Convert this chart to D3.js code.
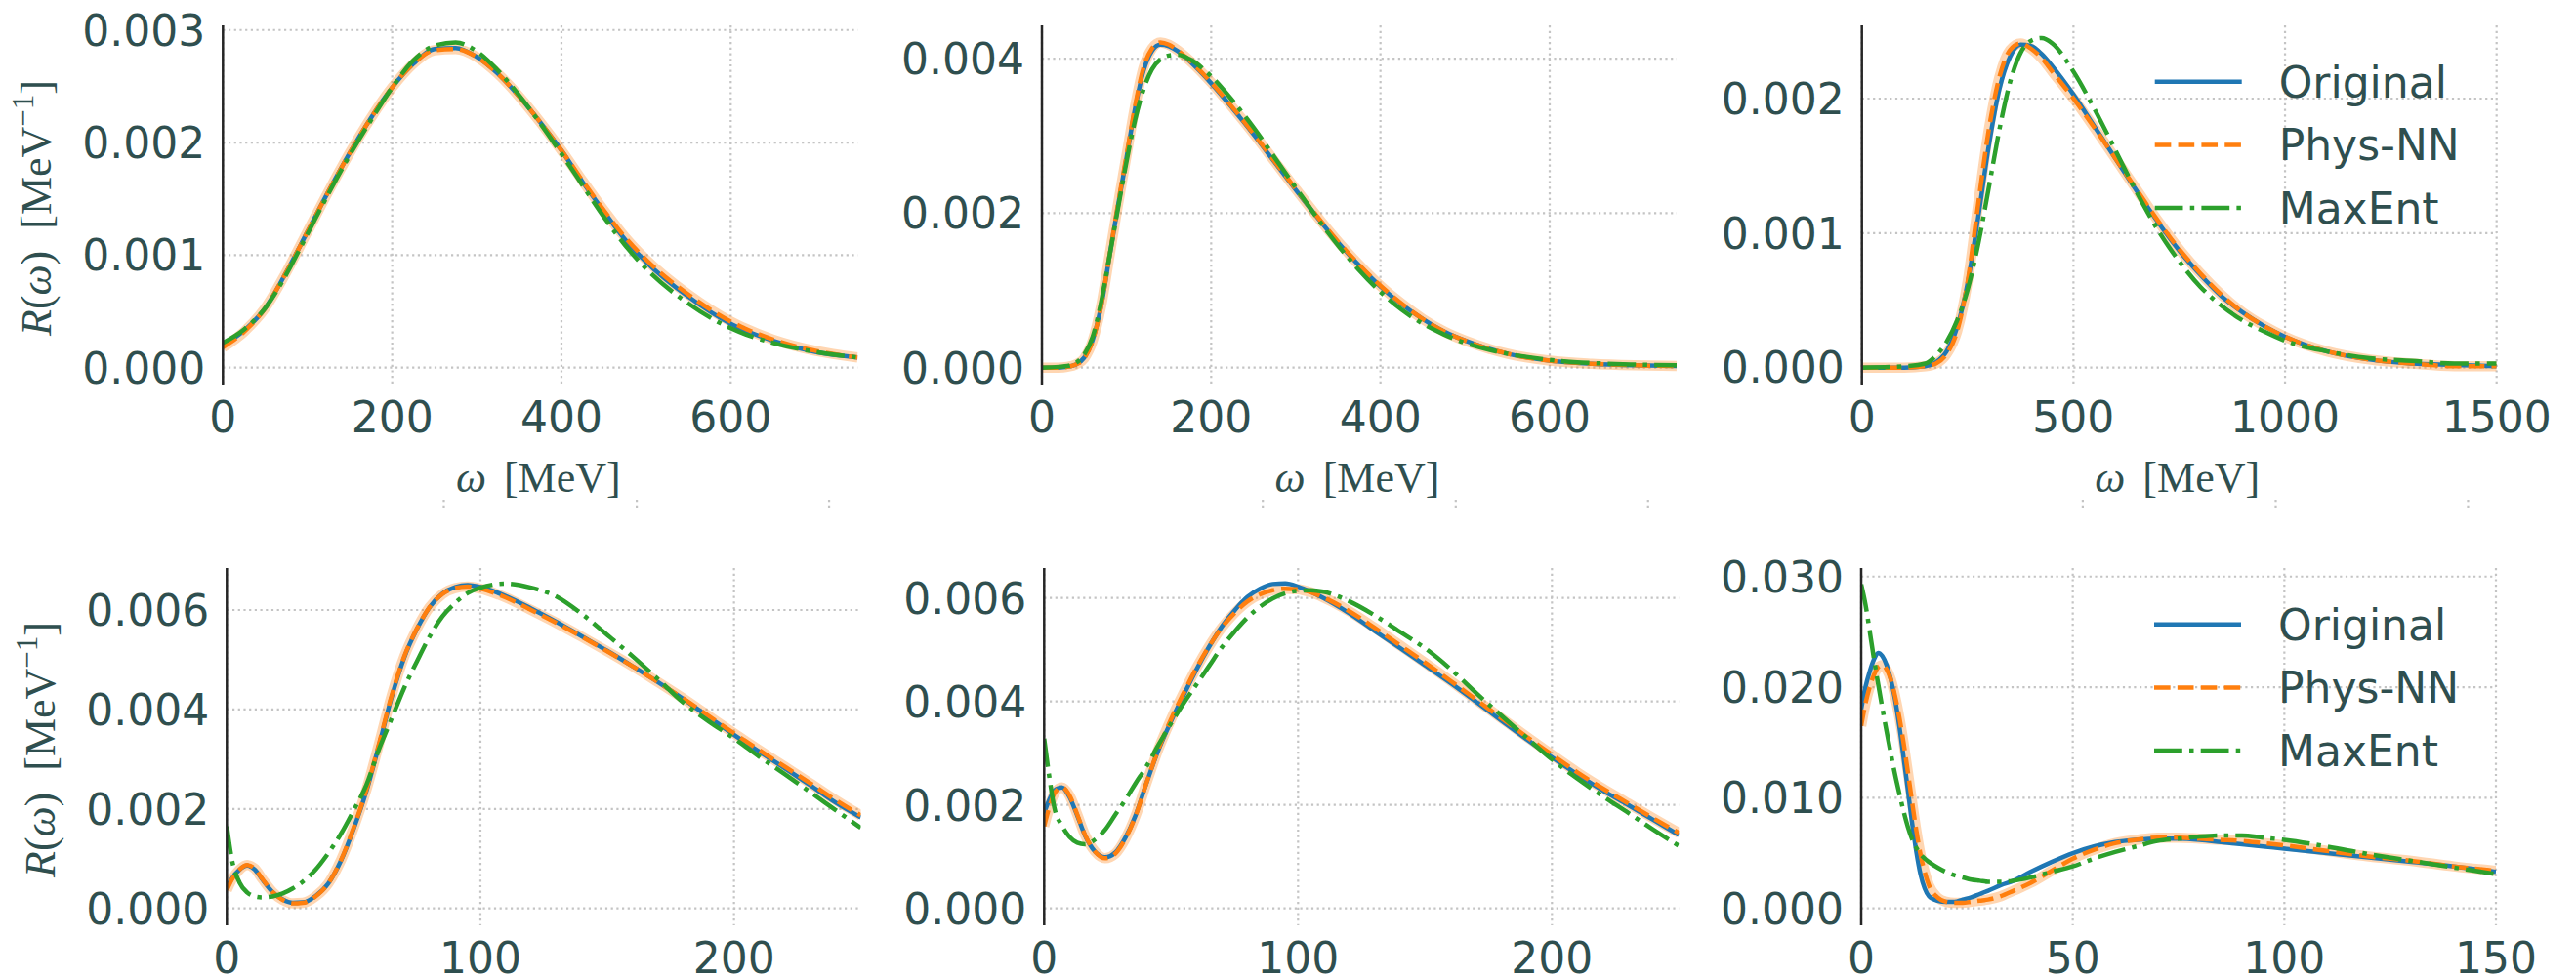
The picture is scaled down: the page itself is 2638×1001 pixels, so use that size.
<!DOCTYPE html>
<html><head><meta charset="utf-8">
<script src="https://cdn.jsdelivr.net/npm/d3@7"></script>
<style>body{margin:0;background:#fff;} svg{display:block;}</style>
</head><body>
<svg id="chart" width="2638" height="1001"></svg>
<script>
// ---------------- DATA ----------------
const seriesNames = ["Original", "Phys-NN", "MaxEnt"];

// Top-left panel
const tlX = [0,25,50,75,100,125,150,175,200,225,250,275,300,325,350,375,400,425,450,475,500,550,600,650,700,750];
const tlOriginal = [0.00020,0.00033,0.00053,0.00085,0.00121,0.00157,0.00191,0.00222,0.00249,0.00270,0.00283,0.00284,0.00276,0.00261,0.00241,0.00218,0.00193,0.00165,0.00139,0.00114,0.00094,0.00063,0.00039,0.00024,0.00014,0.00009];
const tlPhysNN   = [0.00018,0.00032,0.00053,0.00085,0.00121,0.00157,0.00191,0.00222,0.00249,0.00270,0.00282,0.00283,0.00276,0.00261,0.00241,0.00218,0.00193,0.00166,0.00140,0.00116,0.00096,0.00065,0.00041,0.00025,0.00015,0.00009];
const tlMaxEnt   = [0.00022,0.00034,0.00053,0.00083,0.00119,0.00155,0.00189,0.00220,0.00249,0.00273,0.00286,0.00289,0.00281,0.00264,0.00242,0.00217,0.00190,0.00162,0.00134,0.00109,0.00088,0.00057,0.00035,0.00022,0.00014,0.00009];
const tlXTicks = [0,200,400,600];
const tlYTicks = [0,0.001,0.002,0.003];

// Top-middle panel
const tmX = [0,20,30,40,50,60,70,80,90,100,110,120,130,140,150,160,175,200,225,250,275,300,325,350,375,400,425,450,475,500,550,600,650,700,750];
const tmOriginal = [0,0,0.00001,0.00004,0.00013,0.00036,0.00080,0.00145,0.00210,0.00272,0.00335,0.00384,0.00410,0.00418,0.00416,0.00410,0.00396,0.00368,0.00336,0.00302,0.00266,0.00230,0.00195,0.00162,0.00132,0.00105,0.00082,0.00063,0.00047,0.00035,0.00018,0.00009,0.00005,0.00003,0.00002];
const tmPhysNN   = [0,0,0.00001,0.00004,0.00012,0.00035,0.00080,0.00146,0.00212,0.00275,0.00338,0.00388,0.00413,0.00421,0.00418,0.00411,0.00397,0.00369,0.00337,0.00303,0.00267,0.00231,0.00196,0.00163,0.00133,0.00106,0.00083,0.00063,0.00047,0.00035,0.00018,0.00009,0.00005,0.00003,0.00002];
const tmMaxEnt   = [0,0.00001,0.00002,0.00006,0.00017,0.00040,0.00085,0.00145,0.00207,0.00267,0.00320,0.00360,0.00386,0.00399,0.00404,0.00405,0.00399,0.00377,0.00346,0.00311,0.00272,0.00233,0.00194,0.00158,0.00126,0.00098,0.00075,0.00057,0.00043,0.00032,0.00018,0.00010,0.00006,0.00004,0.00003];
const tmXTicks = [0,200,400,600];
const tmYTicks = [0,0.002,0.004];

// Top-right panel
const trX = [0,100,150,175,200,225,250,275,300,325,350,375,400,425,450,500,550,600,650,700,750,800,850,900,950,1000,1100,1200,1300,1400,1500];
const trOriginal = [0,0,0.00001,0.00004,0.00012,0.00030,0.00063,0.00112,0.00165,0.00207,0.00231,0.00240,0.00239,0.00233,0.00224,0.00203,0.00179,0.00155,0.00131,0.00108,0.00087,0.00069,0.00053,0.00041,0.00031,0.00023,0.00012,0.00006,0.00003,0.00002,0.00001];
const trPhysNN   = [0,0,0.00001,0.00003,0.00010,0.00027,0.00064,0.00122,0.00177,0.00216,0.00236,0.00241,0.00237,0.00230,0.00220,0.00200,0.00178,0.00155,0.00132,0.00109,0.00088,0.00070,0.00054,0.00041,0.00031,0.00023,0.00012,0.00006,0.00003,0.00001,0.00001];
const trMaxEnt   = [0,0.00001,0.00003,0.00009,0.00019,0.00035,0.00058,0.00092,0.00134,0.00177,0.00212,0.00234,0.00243,0.00245,0.00241,0.00220,0.00192,0.00161,0.00130,0.00102,0.00079,0.00060,0.00046,0.00035,0.00027,0.00020,0.00012,0.00007,0.00005,0.00003,0.00003];
const trXTicks = [0,500,1000,1500];
const trYTicks = [0,0.001,0.002];

// Bottom-left panel
const blX = [0,2,5,8,11,14,18,22,26,30,35,40,45,50,55,60,65,70,75,80,85,90,95,100,110,120,130,140,150,160,170,180,190,200,210,220,230,240,250];
const blOriginal = [0.00041,0.00060,0.00078,0.00086,0.00078,0.00058,0.00033,0.00018,0.00011,0.00012,0.00025,0.00050,0.00096,0.00160,0.00235,0.00328,0.00425,0.00505,0.00562,0.00606,0.00633,0.00646,0.00650,0.00646,0.00628,0.00603,0.00576,0.00547,0.00518,0.00487,0.00455,0.00421,0.00385,0.00349,0.00315,0.00282,0.00248,0.00213,0.00183];
const blPhysNN   = [0.00037,0.00058,0.00078,0.00087,0.00080,0.00059,0.00033,0.00017,0.00010,0.00011,0.00024,0.00050,0.00097,0.00162,0.00238,0.00331,0.00428,0.00507,0.00563,0.00606,0.00632,0.00644,0.00647,0.00643,0.00625,0.00600,0.00574,0.00546,0.00517,0.00487,0.00455,0.00422,0.00387,0.00352,0.00318,0.00285,0.00252,0.00218,0.00187];
const blMaxEnt   = [0.00165,0.00098,0.00052,0.00032,0.00024,0.00022,0.00024,0.00030,0.00040,0.00054,0.00078,0.00111,0.00150,0.00197,0.00248,0.00320,0.00382,0.00444,0.00497,0.00547,0.00587,0.00614,0.00634,0.00645,0.00653,0.00645,0.00627,0.00592,0.00550,0.00507,0.00461,0.00414,0.00376,0.00342,0.00305,0.00270,0.00234,0.00198,0.00162];
const blXTicks = [0,100,200];
const blYTicks = [0,0.002,0.004,0.006];

// Bottom-middle panel
const bmX = [0,2,4,7,10,13,16,20,24,28,32,36,40,45,50,55,60,65,70,75,80,85,90,95,100,105,110,120,130,140,150,160,170,180,190,200,210,220,230,240,250];
const bmOriginal = [0.00184,0.00210,0.00228,0.00234,0.00215,0.00180,0.00142,0.00110,0.00099,0.00108,0.00137,0.00180,0.00238,0.00306,0.00362,0.00413,0.00462,0.00506,0.00545,0.00576,0.00602,0.00618,0.00627,0.00628,0.00622,0.00612,0.00600,0.00571,0.00537,0.00504,0.00470,0.00436,0.00400,0.00363,0.00327,0.00292,0.00259,0.00228,0.00200,0.00171,0.00142];
const bmPhysNN   = [0.00159,0.00195,0.00222,0.00234,0.00218,0.00182,0.00143,0.00110,0.00097,0.00106,0.00135,0.00179,0.00238,0.00308,0.00366,0.00417,0.00465,0.00507,0.00543,0.00571,0.00593,0.00607,0.00615,0.00618,0.00617,0.00611,0.00601,0.00575,0.00543,0.00509,0.00475,0.00440,0.00404,0.00368,0.00332,0.00297,0.00263,0.00232,0.00203,0.00174,0.00146];
const bmMaxEnt   = [0.00328,0.00255,0.00195,0.00160,0.00138,0.00127,0.00124,0.00133,0.00152,0.00181,0.00210,0.00242,0.00272,0.00316,0.00358,0.00397,0.00433,0.00469,0.00505,0.00535,0.00562,0.00583,0.00599,0.00609,0.00614,0.00615,0.00612,0.00594,0.00567,0.00535,0.00503,0.00463,0.00417,0.00373,0.00330,0.00288,0.00251,0.00217,0.00185,0.00152,0.00121];
const bmXTicks = [0,100,200];
const bmYTicks = [0,0.002,0.004,0.006];

// Bottom-right panel
const brX = [0,1,2,3,4,5,6,7,8,9,10,11,12,13,14,15,16,18,20,22,24,26,28,30,33,36,40,45,50,55,60,65,70,75,80,85,90,95,100,110,120,130,140,150];
const brOriginal = [0.0180,0.0200,0.0214,0.0225,0.0231,0.0228,0.0220,0.0207,0.0189,0.0165,0.0137,0.0108,0.0078,0.0052,0.0031,0.0018,0.0011,0.0007,0.0006,0.0006,0.0008,0.0010,0.0013,0.0016,0.0021,0.0025,0.0033,0.0042,0.0050,0.0056,0.0060,0.0062,0.0063,0.0063,0.0062,0.0060,0.0058,0.0056,0.0054,0.0050,0.0046,0.0042,0.0038,0.0033];
const brPhysNN   = [0.0165,0.0185,0.0200,0.0211,0.0218,0.0220,0.0216,0.0207,0.0192,0.0173,0.0150,0.0124,0.0097,0.0071,0.0049,0.0033,0.0021,0.0010,0.0006,0.0005,0.0005,0.0006,0.0007,0.0008,0.0011,0.0016,0.0023,0.0034,0.0045,0.0053,0.0059,0.0062,0.0064,0.0064,0.0063,0.0062,0.0061,0.0059,0.0057,0.0052,0.0047,0.0043,0.0038,0.0034];
const brMaxEnt   = [0.0293,0.0275,0.0251,0.0226,0.0203,0.0181,0.0160,0.0140,0.0121,0.0104,0.0088,0.0074,0.0063,0.0055,0.0049,0.0045,0.0042,0.0037,0.0033,0.0030,0.0028,0.0026,0.0025,0.0024,0.0024,0.0025,0.0028,0.0033,0.0038,0.0045,0.0051,0.0056,0.0061,0.0063,0.0065,0.0066,0.0066,0.0064,0.0062,0.0056,0.0049,0.0043,0.0037,0.0031];
const brXTicks = [0,50,100,150];
const brYTicks = [0,0.010,0.020,0.030];

// ---------------- LAYOUT ----------------
const TEXT = "#2f4f4f";
const COLORS = ["#1f77b4", "#ff7f0e", "#2ca02c"];
const LW = 4.5;
const DASHES = [null, `${3.7*LW},${1.6*LW}`, `${6.4*LW},${1.6*LW},${1*LW},${1.6*LW}`];

const panels = [
  {xs: tlX, ys: [tlOriginal, tlPhysNN, tlMaxEnt], xd: [0,750], yd: [-0.00015,0.003041], xt: tlXTicks, yt: tlYTicks, L: 228.3, R: 878.3, T: 26, B: 394, ylab: 52, xlab: true, legend: false},
  {xs: tmX, ys: [tmOriginal, tmPhysNN, tmMaxEnt], xd: [0,750], yd: [-0.000219,0.00443], xt: tmXTicks, yt: tmYTicks, L: 1067, R: 1717, T: 26, B: 394, ylab: null, xlab: true, legend: false},
  {xs: trX, ys: [trOriginal, trPhysNN, trMaxEnt], xd: [0,1500], yd: [-0.000126,0.002544], xt: trXTicks, yt: trYTicks, L: 1906.7, R: 2556.7, T: 26, B: 394, ylab: null, xlab: true, legend: true},
  {xs: blX, ys: [blOriginal, blPhysNN, blMaxEnt], xd: [0,250], yd: [-0.00034,0.006844], xt: blXTicks, yt: blYTicks, L: 232.3, R: 881.5, T: 582, B: 948, ylab: 56, xlab: false, legend: false},
  {xs: bmX, ys: [bmOriginal, bmPhysNN, bmMaxEnt], xd: [0,250], yd: [-0.000326,0.006579], xt: bmXTicks, yt: bmYTicks, L: 1069.3, R: 1719.3, T: 582, B: 948, ylab: null, xlab: false, legend: false},
  {xs: brX, ys: [brOriginal, brPhysNN, brMaxEnt], xd: [0,150], yd: [-0.001526,0.03077], xt: brXTicks, yt: brYTicks, L: 1906, R: 2556, T: 582, B: 948, ylab: null, xlab: false, legend: true}
];

const svg = d3.select("#chart");
const defs = svg.append("defs");
const fmtY = d3.format(".3f");
const fmtX = d3.format("d");

panels.forEach((p, i) => {
  const x = d3.scaleLinear().domain(p.xd).range([p.L, p.R]);
  const y = d3.scaleLinear().domain(p.yd).range([p.B, p.T]);
  const g = svg.append("g");

  defs.append("clipPath").attr("id", "clip" + i)
    .append("rect").attr("x", p.L).attr("y", p.T).attr("width", p.R - p.L).attr("height", p.B - p.T);

  // grid
  const grid = g.append("g").attr("stroke", "#c4c4c4").attr("stroke-width", 2.2).attr("stroke-dasharray", "2.2,3.5");
  p.yt.forEach(t => grid.append("line").attr("x1", p.L).attr("x2", p.R).attr("y1", y(t)).attr("y2", y(t)));
  p.xt.forEach(t => grid.append("line").attr("x1", x(t)).attr("x2", x(t)).attr("y1", p.T).attr("y2", p.B));

  const line = d3.line().x((d, k) => x(p.xs[k])).y(d => y(d)).curve(d3.curveMonotoneX);
  const plot = g.append("g").attr("clip-path", `url(#clip${i})`).attr("fill", "none").attr("stroke-linejoin", "round");

  // uncertainty band of Phys-NN
  plot.append("path").attr("d", line(p.ys[1])).attr("stroke", COLORS[1]).attr("stroke-opacity", 0.32).attr("stroke-width", 10.5);
  p.ys.forEach((s, k) => {
    const path = plot.append("path").attr("d", line(s)).attr("stroke", COLORS[k]).attr("stroke-width", LW);
    if (DASHES[k]) path.attr("stroke-dasharray", DASHES[k]);
  });

  // left spine
  g.append("line").attr("x1", p.L).attr("x2", p.L).attr("y1", p.T).attr("y2", p.B)
    .attr("stroke", "#262626").attr("stroke-width", 2.5);

  // tick labels
  const tl = g.append("g").attr("fill", TEXT).attr("font-family", "DejaVu Sans").attr("font-size", 44);
  p.yt.forEach(t => tl.append("text").attr("x", p.L - 18).attr("y", y(t)).attr("dy", "0.36em").attr("text-anchor", "end").text(fmtY(t)));
  p.xt.forEach(t => tl.append("text").attr("x", x(t)).attr("y", p.B + 49).attr("text-anchor", "middle").text(fmtX(t)));

  // x label
  if (p.xlab) {
    const xl = g.append("text").attr("x", (p.L + p.R) / 2 - 2).attr("y", p.B + 109.5)
      .attr("text-anchor", "middle").attr("fill", TEXT).attr("font-family", "Liberation Serif").attr("font-size", 44);
    xl.append("tspan").attr("font-style", "italic").text("ω");
    xl.append("tspan").attr("dx", 18).text("[MeV]");
    // faint dotted stubs under the label
    [0.348, 0.652, 0.955].forEach(f => g.append("line")
      .attr("x1", p.L + f * (p.R - p.L)).attr("x2", p.L + f * (p.R - p.L))
      .attr("y1", p.B + 118).attr("y2", p.B + 128)
      .attr("stroke", "#c4c4c4").attr("stroke-width", 2.2).attr("stroke-dasharray", "2.2,3.5"));
  }

  // y label
  if (p.ylab !== null) {
    const cy = (p.T + p.B) / 2 + 3;
    const yl = g.append("text").attr("transform", `translate(${p.ylab},${cy}) rotate(-90)`)
      .attr("text-anchor", "middle").attr("fill", TEXT).attr("font-family", "Liberation Serif").attr("font-size", 44);
    yl.append("tspan").attr("font-style", "italic").text("R");
    yl.append("tspan").text("(");
    yl.append("tspan").attr("font-style", "italic").text("ω");
    yl.append("tspan").text(")");
    yl.append("tspan").attr("dx", 22).text("[MeV");
    yl.append("tspan").attr("font-size", 31).attr("dy", -18).text("−1");
    yl.append("tspan").attr("dy", 18).text("]");
  }

  // legend
  if (p.legend) {
    const lg = g.append("g");
    seriesNames.forEach((name, k) => {
      const ry = p.T + 57.7 + k * 64.7;
      const ln = lg.append("line").attr("x1", p.L + 300).attr("x2", p.L + 389).attr("y1", ry).attr("y2", ry)
        .attr("stroke", COLORS[k]).attr("stroke-width", LW);
      if (DASHES[k]) ln.attr("stroke-dasharray", DASHES[k]);
      lg.append("text").attr("x", p.L + 427).attr("y", ry).attr("dy", "0.36em")
        .attr("fill", TEXT).attr("font-family", "DejaVu Sans").attr("font-size", 44).text(name);
    });
  }
});
</script>
</body></html>
